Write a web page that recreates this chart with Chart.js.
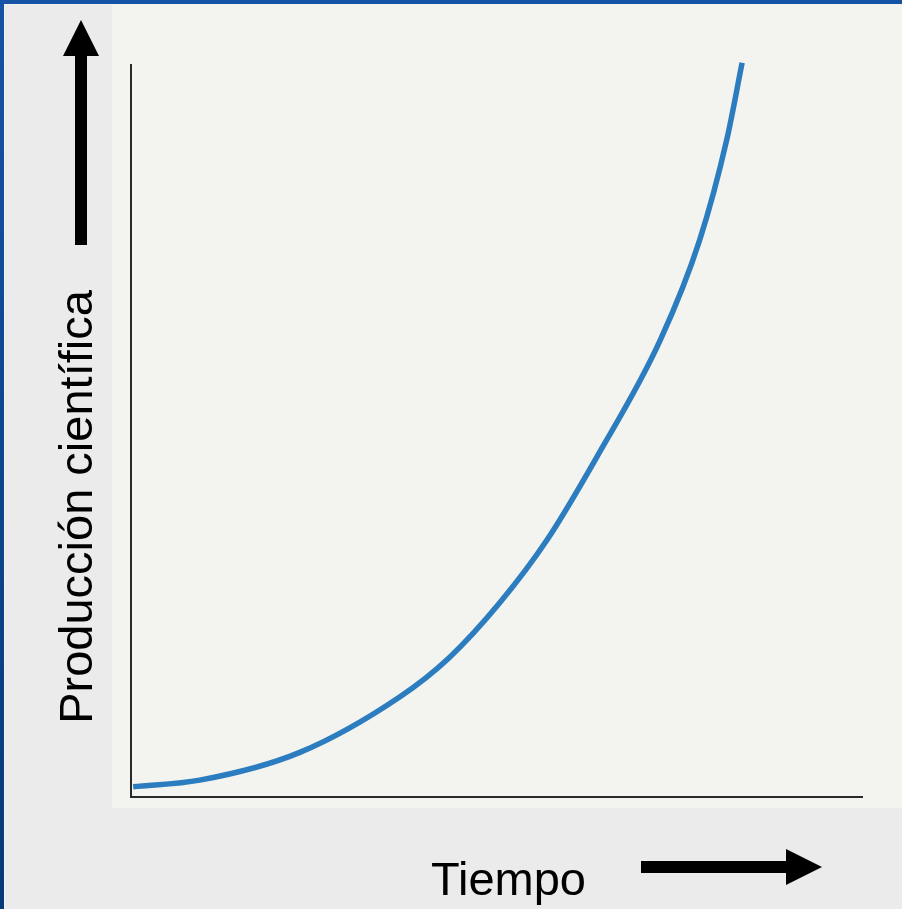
<!DOCTYPE html>
<html>
<head>
<meta charset="utf-8">
<script src="https://cdn.jsdelivr.net/npm/chart.js@4"></script>
<style>
  html, body { margin: 0; padding: 0; background: #ebebeb; }
  canvas { display: block; }
</style>
</head>
<body>
<canvas id="c" width="902" height="909"></canvas>
<script>
// Data (time vs. scientific production, arbitrary units 0-100)
const timeValues = [0.3, 9.4, 23.1, 36.8, 43.6, 50.5, 56.9, 63.7, 72.4, 77.8, 81.5, 83.6];
const productionValues = [1.4, 2.3, 6.1, 13.7, 19.1, 26.6, 35.1, 46.4, 62.4, 76.1, 89.8, 100.3];
const xAxisLabel = "Tiempo";
const yAxisLabel = "Producción científica";

const points = timeValues.map((t, i) => ({ x: t, y: productionValues[i] }));

const decorPlugin = {
  id: 'decor',
  beforeDraw(chart) {
    const ctx = chart.ctx;
    const W = chart.width, H = chart.height;
    ctx.save();
    const g = ctx.createLinearGradient(0, 0, 0, H);
    g.addColorStop(0, '#1553a6');
    g.addColorStop(1, '#073a78');
    ctx.fillStyle = g;
    ctx.fillRect(0, 0, W, H);
    ctx.fillStyle = '#f2f2f2';
    ctx.fillRect(4, 4, W - 4, H - 4);
    ctx.fillStyle = '#ebebeb';
    ctx.fillRect(5, 5, W - 5, H - 5);
    // paper
    ctx.fillStyle = '#f3f3f0';
    ctx.fillRect(112, 5, W - 112, 808 - 5);
    ctx.restore();
  },
  afterDraw(chart) {
    const ctx = chart.ctx;
    ctx.save();
    ctx.fillStyle = '#000';
    // y label
    ctx.font = '47px "Liberation Sans", Arial, sans-serif';
    ctx.textBaseline = 'alphabetic';
    ctx.textAlign = 'center';
    ctx.save();
    ctx.translate(92, 507);
    ctx.rotate(-Math.PI / 2);
    ctx.fillText(yAxisLabel, 0, 0);
    ctx.restore();
    // x label
    ctx.textAlign = 'left';
    ctx.fillText(xAxisLabel, 431, 895);
    // up arrow
    ctx.fillRect(75, 55, 12, 190);
    ctx.beginPath();
    ctx.moveTo(81, 20);
    ctx.lineTo(99, 56);
    ctx.lineTo(63, 56);
    ctx.closePath();
    ctx.fill();
    // right arrow
    ctx.fillRect(641, 861, 146, 12);
    ctx.beginPath();
    ctx.moveTo(822, 867);
    ctx.lineTo(786, 849);
    ctx.lineTo(786, 885);
    ctx.closePath();
    ctx.fill();
    ctx.restore();
  }
};

new Chart(document.getElementById('c'), {
  type: 'line',
  data: {
    datasets: [{
      data: points,
      borderColor: '#2c7dbf',
      borderWidth: 5.5,
      pointRadius: 0,
      fill: false,
      cubicInterpolationMode: 'monotone',
      clip: false
    }]
  },
  options: {
    responsive: false,
    animation: false,
    events: [],
    layout: { padding: { left: 131, right: 40, top: 65, bottom: 112 } },
    plugins: { legend: { display: false }, tooltip: { enabled: false }, title: { display: false } },
    scales: {
      x: {
        type: 'linear', min: 0, max: 100,
        grid: { display: false },
        ticks: { display: false },
        border: { display: true, color: '#2a2a2a', width: 2 },
        afterFit(s) { s.height = 0; }
      },
      y: {
        type: 'linear', min: 0, max: 100,
        grid: { display: false },
        ticks: { display: false },
        border: { display: true, color: '#2a2a2a', width: 2 },
        afterFit(s) { s.width = 0; }
      }
    }
  },
  plugins: [decorPlugin]
});
</script>
</body>
</html>
